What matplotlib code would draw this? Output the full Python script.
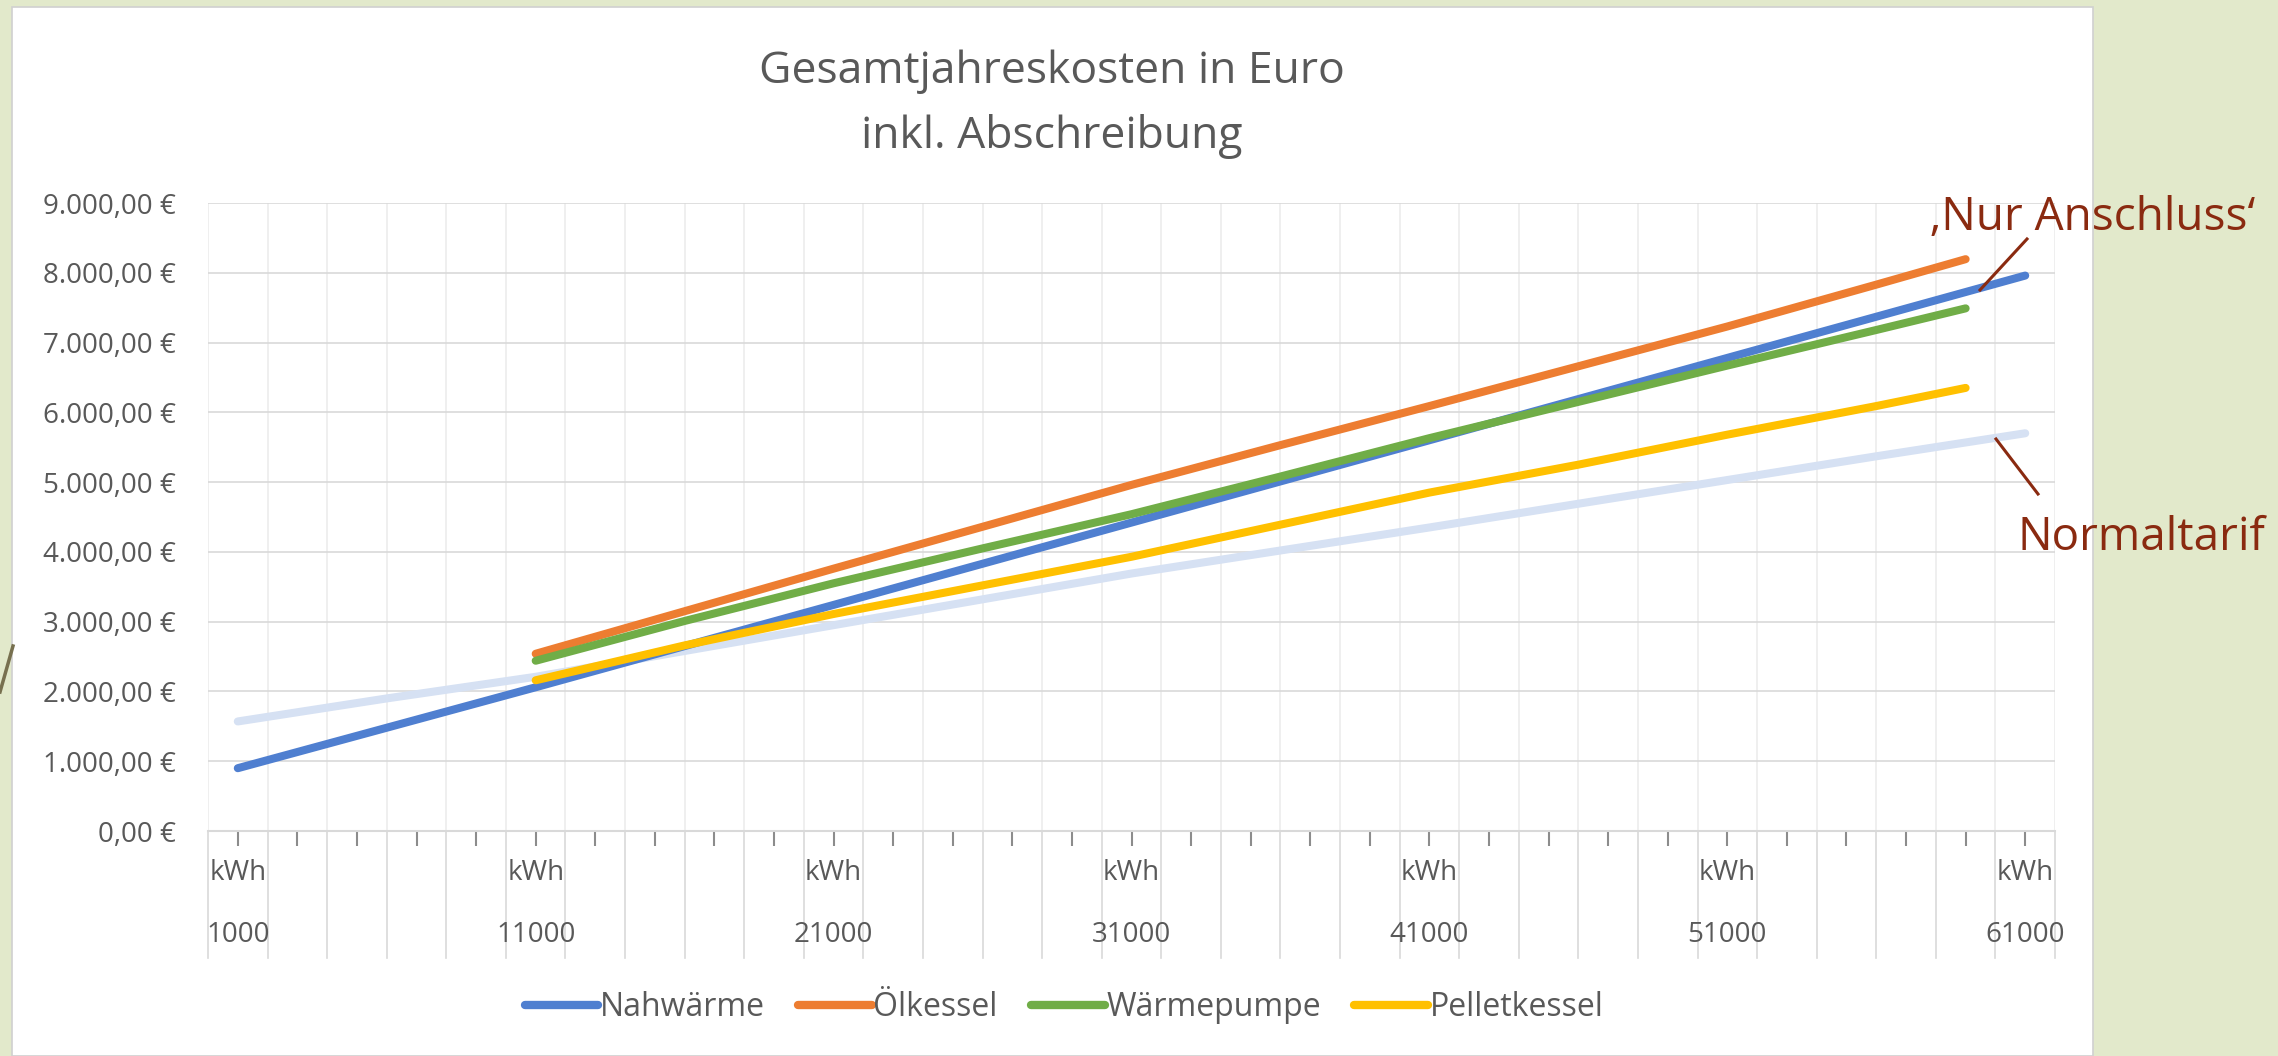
import matplotlib
matplotlib.use("Agg")
import matplotlib.pyplot as plt
import matplotlib.transforms as mtransforms
from matplotlib.lines import Line2D
from matplotlib.patches import Rectangle
from matplotlib.ticker import FixedLocator

plt.rcParams['font.family'] = ['Open Sans', 'DejaVu Sans']

# Verbrauch in kWh und Kosten in Euro
kwh_nah = [1000, 6000, 11000, 16000, 21000, 26000, 31000, 36000, 41000, 46000, 51000, 56000, 61000]
nahwaerme = [900, 1480, 2060, 2650, 3240, 3830, 4420, 5010, 5600, 6190, 6780, 7370, 7960]
normaltarif = [1570, 1900, 2210, 2580, 2950, 3320, 3690, 4020, 4350, 4690, 5030, 5370, 5700]

kwh_rest = [11000, 16000, 21000, 26000, 31000, 36000, 41000, 46000, 51000, 56000, 59000]
oelkessel = [2540, 3150, 3760, 4360, 4960, 5530, 6090, 6660, 7230, 7830, 8195]
waermepumpe = [2440, 3010, 3550, 4050, 4540, 5080, 5630, 6150, 6670, 7180, 7490]
pelletkessel = [2160, 2660, 3110, 3520, 3930, 4390, 4850, 5250, 5680, 6090, 6350]

series_names = ['Nahwärme', 'Ölkessel', 'Wärmepumpe', 'Pelletkessel']
series_colors = ['#4f7fd0', '#ed7d31', '#70ad47', '#ffc000']
label_kwh = [1000, 11000, 21000, 31000, 41000, 51000, 61000]
y_values = [0, 1000, 2000, 3000, 4000, 5000, 6000, 7000, 8000, 9000]

W, H = 2278, 1056
fig = plt.figure(figsize=(W / 100, H / 100), dpi=100, facecolor='#e2e9cb')

# weisse Diagrammflaeche
fig.add_artist(Rectangle((12 / W, 0), (2093 - 12) / W, 1 - 7 / H, transform=fig.transFigure,
                         facecolor='white', edgecolor='#d0d0d0', lw=1.2, zorder=0))
# Deko-Linie links am Rand
fig.add_artist(Line2D([0, 13 / W], [1 - 692 / H, 1 - 646 / H], transform=fig.transFigure,
                      color='#77704f', lw=2.5))

ax = fig.add_axes([208 / W, 1 - 831 / H, (2055 - 208) / W, (831 - 203) / H])
ax.set_facecolor('none')

grey = '#595959'
lw = 5.8
ax.plot(kwh_nah, normaltarif, color='#d6e1f3', lw=lw, solid_capstyle='round', zorder=2)
ax.plot(kwh_nah, nahwaerme, color=series_colors[0], lw=lw, solid_capstyle='round', zorder=3)
ax.plot(kwh_rest, oelkessel, color=series_colors[1], lw=lw, solid_capstyle='round', zorder=3)
ax.plot(kwh_rest, waermepumpe, color=series_colors[2], lw=lw, solid_capstyle='round', zorder=3)
ax.plot(kwh_rest, pelletkessel, color=series_colors[3], lw=lw, solid_capstyle='round', zorder=3)

ax.set_xlim(0, 62000)
ax.set_ylim(0, 9000)

# y-Achse
ax.set_yticks(y_values)
ax.set_yticklabels([f"{v:,.2f} €".replace(',', 'X').replace('.', ',').replace('X', '.') for v in y_values])
ax.tick_params(axis='y', length=0, pad=23, labelsize=20, labelcolor=grey)
ax.grid(axis='y', color='#d9d9d9', lw=1.2)

# x-Achse: Gitter alle 1000 kWh, Striche bei ungeraden Tausendern
ax.set_xticks(list(range(1000, 62000, 2000)))
ax.xaxis.set_minor_locator(FixedLocator(list(range(0, 62001, 1000))))
ax.tick_params(axis='x', which='major', length=10.8, width=1.5, color='#8c8c8c', labelbottom=False)
ax.tick_params(axis='x', which='minor', length=0)
ax.grid(axis='x', which='minor', color='#ececec', lw=1.2)
ax.grid(axis='x', which='major', visible=False)
ax.set_axisbelow(True)

for s in ['top', 'right', 'left']:
    ax.spines[s].set_visible(False)
ax.spines['bottom'].set_color('#d9d9d9')
ax.spines['bottom'].set_linewidth(1.5)

trans = mtransforms.blended_transform_factory(ax.transData, ax.transAxes)
for xs in range(0, 62001, 2000):
    ax.plot([xs, xs], [0, -0.202], transform=trans, clip_on=False, color='#d9d9d9', lw=1.2)
for k in label_kwh:
    ax.text(k, -0.0669, 'kWh', transform=trans, ha='center', va='center', fontsize=20, color=grey)
    ax.text(k, -0.1656, str(k), transform=trans, ha='center', va='center', fontsize=20, color=grey)

# Titel
fig.text(1052 / W, 1 - 83 / H, 'Gesamtjahreskosten in Euro', ha='center', va='baseline',
         fontsize=32, color=grey)
fig.text(1052 / W, 1 - 148 / H, 'inkl. Abschreibung', ha='center', va='baseline',
         fontsize=32, color=grey)

# Legende
handles = [Line2D([], [], color=c, lw=6, solid_capstyle='round') for c in series_colors]
fig.legend(handles, series_names, loc='center', bbox_to_anchor=(1064 / W, 1 - 1008 / H), ncol=4,
           frameon=False, fontsize=23, labelcolor=grey, handlelength=2.3, handletextpad=0.05,
           columnspacing=1.05)

# Beschriftungen rechts
red = '#8a2a10'
fig.text(1930 / W, 1 - 230 / H, '\u201aNur Anschluss\u2018', ha='left', va='baseline', fontsize=33,
         color=red)
fig.text(2018 / W, 1 - 550 / H, 'Normaltarif', ha='left', va='baseline', fontsize=33, color=red)
fig.add_artist(Line2D([2027 / W, 1980 / W], [1 - 239 / H, 1 - 290 / H], transform=fig.transFigure,
                      color=red, lw=2.2))
fig.add_artist(Line2D([1996 / W, 2038 / W], [1 - 439 / H, 1 - 494 / H], transform=fig.transFigure,
                      color=red, lw=2.2))

fig.savefig('out.png', dpi=100, facecolor=fig.get_facecolor())
